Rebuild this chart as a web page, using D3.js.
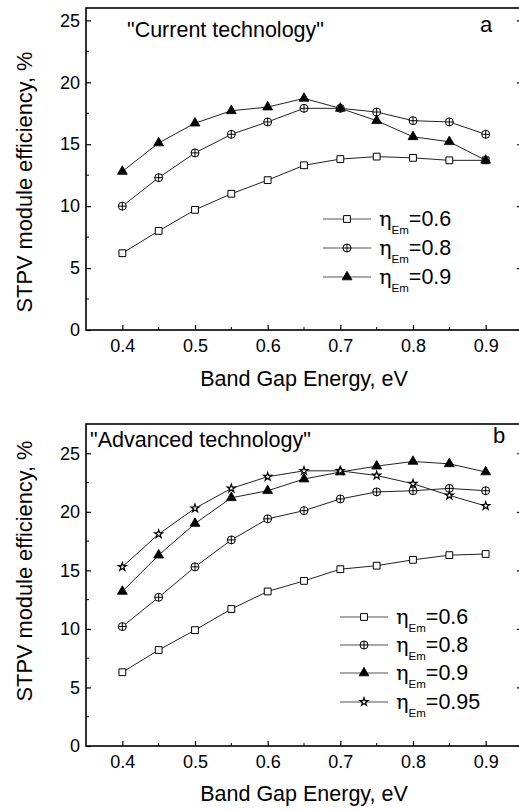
<!DOCTYPE html>
<html>
<head>
<meta charset="utf-8">
<script src="https://cdn.jsdelivr.net/npm/d3@7"></script>
<style>
html,body{margin:0;padding:0;background:#fff;}
svg{display:block;font-family:"Liberation Sans",Arial,Helvetica,sans-serif;}
</style>
</head>
<body>
<svg id="chart" width="519" height="810"></svg>
<script>
// ---- data ----
const bandGap = [0.40, 0.45, 0.50, 0.55, 0.60, 0.65, 0.70, 0.75, 0.80, 0.85, 0.90];
const xTickValues = [0.4, 0.5, 0.6, 0.7, 0.8, 0.9];
const xMinorTicks = [0.45, 0.55, 0.65, 0.75, 0.85];
const yTickValues = [0, 5, 10, 15, 20, 25];
const yMinorTicks = [2.5, 7.5, 12.5, 17.5, 22.5];

// panel a: "Current technology"
const currentEta06 = [6.2, 8.0, 9.7, 11.0, 12.1, 13.3, 13.8, 14.0, 13.9, 13.7, 13.7];
const currentEta08 = [10.0, 12.3, 14.3, 15.8, 16.8, 17.9, 17.9, 17.6, 16.9, 16.8, 15.8];
const currentEta09 = [12.8, 15.1, 16.7, 17.7, 18.0, 18.7, 17.9, 16.9, 15.6, 15.2, 13.7];
const currentLabels = ["0.6", "0.8", "0.9"];

// panel b: "Advanced technology"
const advancedEta06 = [6.3, 8.2, 9.9, 11.7, 13.2, 14.1, 15.1, 15.4, 15.9, 16.3, 16.4];
const advancedEta08 = [10.2, 12.7, 15.3, 17.6, 19.4, 20.1, 21.1, 21.7, 21.8, 22.0, 21.8];
const advancedEta09 = [13.2, 16.3, 19.0, 21.2, 21.8, 22.8, 23.4, 23.9, 24.3, 24.1, 23.4];
const advancedEta095 = [15.3, 18.1, 20.3, 22.0, 23.0, 23.5, 23.5, 23.1, 22.4, 21.4, 20.5];
const advancedLabels = ["0.6", "0.8", "0.9", "0.95"];

const xTitle = "Band Gap Energy, eV";
const yTitle = "STPV module efficiency, %";

// ---- drawing ----
const svg = d3.select("#chart");

function drawMarker(g, type, x, y) {
  if (type === "square") {
    g.append("path").attr("d", d3.symbol(d3.symbolSquare, 46)())
      .attr("transform", `translate(${x},${y})`)
      .attr("fill", "#fff").attr("stroke", "#000").attr("stroke-width", 1);
  } else if (type === "circleplus") {
    const r = 4;
    g.append("circle").attr("cx", x).attr("cy", y).attr("r", r)
      .attr("fill", "#fff").attr("stroke", "#000").attr("stroke-width", 1);
    g.append("path").attr("d", `M${x - r},${y}H${x + r}M${x},${y - r}V${y + r}`)
      .attr("stroke", "#000").attr("stroke-width", 1).attr("fill", "none");
  } else if (type === "triangle") {
    g.append("path").attr("d", d3.symbol(d3.symbolTriangle, 42)())
      .attr("transform", `translate(${x},${y})`)
      .attr("fill", "#000").attr("stroke", "#000").attr("stroke-width", 0.8);
  } else if (type === "star") {
    g.append("path").attr("d", d3.symbol(d3.symbolStar, 20)())
      .attr("transform", `translate(${x},${y})`)
      .attr("fill", "#fff").attr("stroke", "#000").attr("stroke-width", 1.2);
  }
}

function drawPanel(cfg) {
  const x = d3.scaleLinear().domain([0.35, 0.95]).range([86, 522]);
  const y = d3.scaleLinear().domain([0, cfg.yMax]).range([cfg.bottom, cfg.top]);
  const g = svg.append("g");

  // series lines + markers
  cfg.series.forEach(s => {
    const line = d3.line().x((d, i) => x(bandGap[i])).y(d => y(d));
    g.append("path").datum(s.values).attr("d", line)
      .attr("fill", "none").attr("stroke", "#222").attr("stroke-width", 1);
  });
  cfg.series.forEach(s => {
    s.values.forEach((v, i) => drawMarker(g, s.marker, x(bandGap[i]), y(v)));
  });

  // axes (ticks inward)
  const xAxis = d3.axisBottom(x).tickValues(xTickValues).tickFormat(d3.format(".1f"))
    .tickSize(-5).tickPadding(9);
  const gx = g.append("g").attr("transform", `translate(0,${cfg.bottom})`).call(xAxis);
  gx.select(".domain").remove();
  gx.selectAll("line").attr("stroke", "#000").attr("stroke-width", 1.2);
  gx.selectAll("text").attr("font-size", 18).attr("fill", "#000")
    .attr("font-family", '"Liberation Sans",Arial,sans-serif');

  const yAxis = d3.axisLeft(y).tickValues(yTickValues).tickFormat(d3.format("d"))
    .tickSize(-5).tickPadding(6);
  const gy = g.append("g").attr("transform", `translate(86,0)`).call(yAxis);
  gy.select(".domain").remove();
  gy.selectAll("line").attr("stroke", "#000").attr("stroke-width", 1.2);
  gy.selectAll("text").attr("font-size", 18).attr("fill", "#000")
    .attr("font-family", '"Liberation Sans",Arial,sans-serif');

  // right axis ticks
  const gr = g.append("g").attr("transform", `translate(522,0)`)
    .call(d3.axisRight(y).tickValues(yTickValues).tickSize(-5).tickFormat(""));
  gr.select(".domain").remove();
  gr.selectAll("line").attr("stroke", "#000").attr("stroke-width", 1.2);

  // minor ticks
  g.selectAll(null).data(xMinorTicks).enter().append("line")
    .attr("x1", d => x(d)).attr("x2", d => x(d))
    .attr("y1", cfg.bottom).attr("y2", cfg.bottom - 3)
    .attr("stroke", "#000").attr("stroke-width", 1);
  g.selectAll(null).data(yMinorTicks).enter().append("line")
    .attr("x1", 86).attr("x2", 89).attr("y1", d => y(d)).attr("y2", d => y(d))
    .attr("stroke", "#000").attr("stroke-width", 1);
  g.selectAll(null).data(yMinorTicks).enter().append("line")
    .attr("x1", 522).attr("x2", 519).attr("y1", d => y(d)).attr("y2", d => y(d))
    .attr("stroke", "#000").attr("stroke-width", 1);

  // frame
  g.append("rect").attr("x", 86).attr("y", cfg.top).attr("width", 522 - 86)
    .attr("height", cfg.bottom - cfg.top)
    .attr("fill", "none").attr("stroke", "#000").attr("stroke-width", 1.6);

  // titles
  g.append("text").attr("x", cfg.titleX).attr("y", cfg.titleY)
    .attr("font-size", 21.5).text(cfg.title);
  g.append("text").attr("x", cfg.letterX).attr("y", cfg.letterY)
    .attr("font-size", 22).text(cfg.letter);

  // axis titles
  g.append("text").attr("x", 304).attr("y", cfg.xTitleY).attr("text-anchor", "middle")
    .attr("font-size", 21.5).text(xTitle);
  g.append("text").attr("transform", `translate(32,${cfg.yTitleY}) rotate(-90)`)
    .attr("text-anchor", "middle").attr("font-size", 21.8).text(yTitle);

  // legend
  cfg.series.forEach((s, i) => {
    const ly = cfg.legendRows[i];
    g.append("line").attr("x1", cfg.legendX1).attr("x2", cfg.legendX1 + 48)
      .attr("y1", ly).attr("y2", ly).attr("stroke", "#555").attr("stroke-width", 1.2);
    drawMarker(g, s.marker, cfg.legendX1 + 24, ly);
    const t = g.append("text").attr("x", cfg.legendX1 + 56).attr("y", ly + 7);
    t.append("tspan").attr("font-size", 21).attr("font-family", '"DejaVu Serif",serif').text("η");
    t.append("tspan").attr("font-size", 11.5).attr("dy", 8).text("Em");
    t.append("tspan").attr("font-size", 21.5).attr("dy", -8).text("=" + s.label);
  });
}

drawPanel({
  top: 8, bottom: 330, yMax: 26,
  title: '"Current technology"', titleX: 127, titleY: 37,
  letter: "a", letterX: 480, letterY: 32,
  xTitleY: 386, yTitleY: 182,
  legendX1: 323, legendRows: [219, 248, 277],
  series: [
    { values: currentEta06, marker: "square", label: currentLabels[0] },
    { values: currentEta08, marker: "circleplus", label: currentLabels[1] },
    { values: currentEta09, marker: "triangle", label: currentLabels[2] }
  ]
});

drawPanel({
  top: 424, bottom: 746, yMax: 27.5,
  title: '"Advanced technology"', titleX: 90, titleY: 447,
  letter: "b", letterX: 493, letterY: 443,
  xTitleY: 801, yTitleY: 571,
  legendX1: 340, legendRows: [617, 645, 673, 702],
  series: [
    { values: advancedEta06, marker: "square", label: advancedLabels[0] },
    { values: advancedEta08, marker: "circleplus", label: advancedLabels[1] },
    { values: advancedEta09, marker: "triangle", label: advancedLabels[2] },
    { values: advancedEta095, marker: "star", label: advancedLabels[3] }
  ]
});
</script>
</body>
</html>
